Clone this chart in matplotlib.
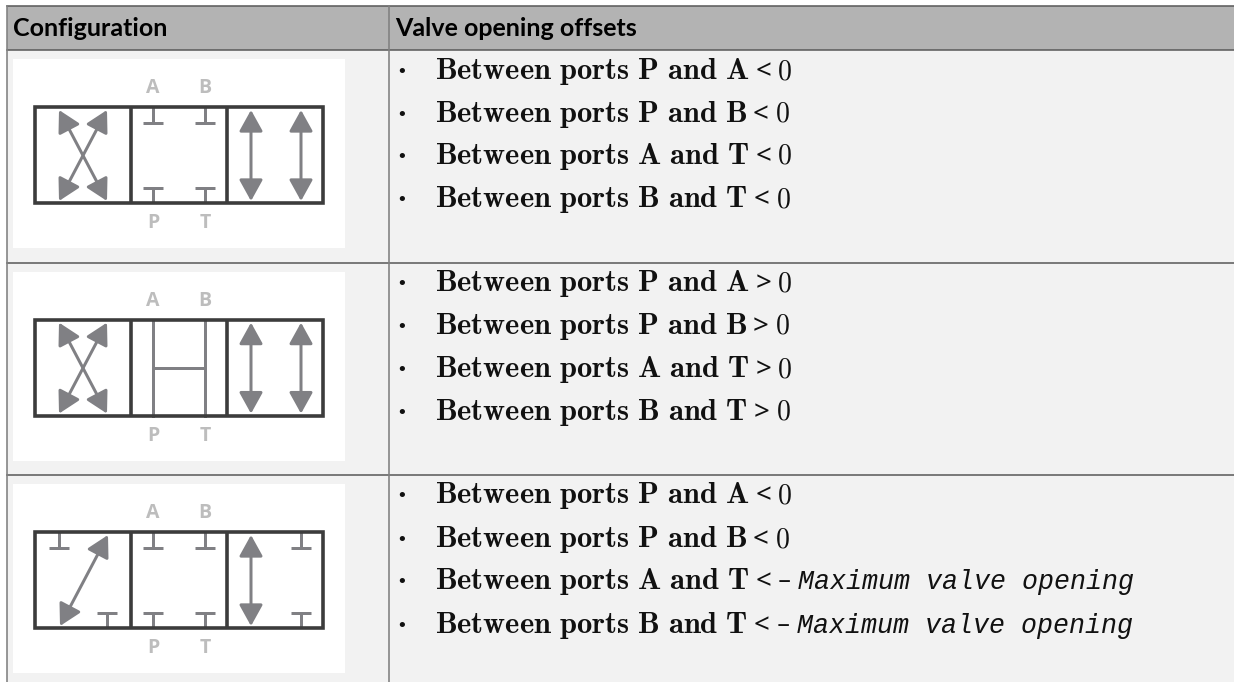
import matplotlib
matplotlib.use('Agg')
import matplotlib.pyplot as plt
from matplotlib.patches import Rectangle, FancyArrowPatch

plt.rcParams['mathtext.fontset'] = 'cm'

# Table text
headers = ['Configuration', 'Valve opening offsets']
port_pairs = ['P and A', 'P and B', 'A and T', 'B and T']
row1_ops = ['<', '<', '<', '<']
row2_ops = ['>', '>', '>', '>']
row3_ops = ['<', '<', '<', '<']
row1_vals = ['0', '0', '0', '0']
row2_vals = ['0', '0', '0', '0']
row3_vals = ['0', '0', '-max', '-max']
max_label = 'Maximum valve opening'
port_labels_top = ['A', 'B']
port_labels_bottom = ['P', 'T']

# Table layout, in pixels
W, H = 1234, 682
col_left, col_mid = 7, 389
header_top, header_bottom = 6, 50
row_lines = [262.5, 474.5]
row_shift = [0, 212.6, 425]
baselines = [[79, 122, 164, 207], [291, 334, 377, 420], [503, 547, 589, 633]]

# Symbol layout, in pixels for the first row
x_port_a, x_port_b = 153, 205
x_left_a, x_left_b = 59, 107
x_right_a, x_right_b = 251, 301
y_top, y_bot = 107, 203

# Colours
dark = '#3c3c3c'
grey = '#808084'
label_grey = '#bdbdbd'
border = '#5e5e5e'

fig = plt.figure(figsize=(W / 100, H / 100), dpi=100)
ax = fig.add_axes([0, 0, 1, 1])
ax.set_xlim(0, W)
ax.set_ylim(H, 0)
ax.axis('off')


def px(n):
    return n * 0.72


def arrow(p, q, dy):
    ax.add_patch(FancyArrowPatch((p[0], p[1] + dy), (q[0], q[1] + dy),
                                 arrowstyle='<|-|>,head_length=1.3,head_width=0.72',
                                 mutation_scale=10, lw=px(3), color=grey,
                                 shrinkA=0, shrinkB=0, zorder=3))


def stop(x, dy, top=True):
    if top:
        ys = (y_top, y_top + 16)
    else:
        ys = (y_bot, y_bot - 15)
    ax.plot([x, x], [ys[0] + dy, ys[1] + dy], color=grey, lw=px(3), solid_capstyle='butt', zorder=3)
    ax.plot([x - 10, x + 10], [ys[1] + dy, ys[1] + dy], color=grey, lw=px(3), solid_capstyle='butt', zorder=3)


def symbol(row):
    dy = row_shift[row]
    ax.add_patch(Rectangle((13, 59 + dy), 332, 189, fc='white', ec='none', zorder=1))
    for x, t in zip([x_port_a, x_port_b], port_labels_top):
        ax.text(x, 88 + dy, t, ha='center', va='center', fontsize=14, family='Open Sans',
                weight='bold', color=label_grey, zorder=2)
    for x, t in zip([x_port_a, x_port_b], port_labels_bottom):
        ax.text(x, 223 + dy, t, ha='center', va='center', fontsize=14, family='Open Sans',
                weight='bold', color=label_grey, zorder=2)
    if row == 0 or row == 1:
        arrow((x_left_a, y_top + 3), (x_left_b, y_bot - 2), dy)
        arrow((x_left_b, y_top + 3), (x_left_a, y_bot - 2), dy)
        arrow((x_right_a, y_top + 3), (x_right_a, y_bot - 2), dy)
        arrow((x_right_b, y_top + 3), (x_right_b, y_bot - 2), dy)
    else:
        stop(x_left_a, dy, True)
        stop(x_left_b, dy, False)
        arrow((x_left_b + 1, y_top + 3), (x_left_a + 1, y_bot - 2), dy)
        arrow((x_right_a, y_top + 3), (x_right_a, y_bot - 2), dy)
        stop(x_right_b, dy, True)
        stop(x_right_b, dy, False)
    if row == 1:
        ax.plot([x_port_a, x_port_a], [y_top + dy, y_bot + dy], color=grey, lw=px(3), zorder=3)
        ax.plot([x_port_b, x_port_b], [y_top + dy, y_bot + dy], color=grey, lw=px(3), zorder=3)
        ax.plot([x_port_a, x_port_b], [155 + dy, 155 + dy], color=grey, lw=px(3), zorder=3)
    else:
        for x in [x_port_a, x_port_b]:
            stop(x, dy, True)
            stop(x, dy, False)
    ax.add_patch(Rectangle((35, y_top + dy), 288, y_bot - y_top, fc='none', ec=dark,
                           lw=px(3.6), joinstyle='miter', zorder=4))
    for x in [131, 227]:
        ax.plot([x, x], [y_top + dy, y_bot + dy], color=dark, lw=px(3.6), solid_capstyle='butt', zorder=4)


def chain(x, y, parts):
    # draw text pieces one after another on the same baseline
    rend = fig.canvas.get_renderer()
    for s, kw, gap in parts:
        t = ax.text(x, y, s, ha='left', va='baseline', color='#111111', zorder=5, **kw)
        bb = t.get_window_extent(rend)
        x = bb.x1 + gap


# Background and header
ax.add_patch(Rectangle((col_left, header_top), W - col_left, H - header_top, fc='#f2f2f2', ec='none', zorder=0))
ax.add_patch(Rectangle((col_left, header_top), W - col_left, header_bottom - header_top, fc='#b3b3b3', ec='none', zorder=0.5))
ax.text(13, 28, headers[0], fontsize=18, family='Lato', weight='bold', color='black', va='center', ha='left', zorder=5)
ax.text(395, 28, headers[1], fontsize=18, family='Lato', weight='bold', color='black', va='center', ha='left', zorder=5)

# Grid lines
for y in [header_top, header_bottom] + row_lines:
    ax.plot([col_left, W], [y, y], color=border, lw=px(1.6), zorder=6)
ax.plot([col_left, col_left], [header_top, H], color='#808080', lw=px(1.6), zorder=6)
ax.plot([col_mid, col_mid], [header_top, H], color='#808080', lw=px(1.6), zorder=6)

# Symbols
for r in range(3):
    symbol(r)

# Text rows
ops = [row1_ops, row2_ops, row3_ops]
vals = [row1_vals, row2_vals, row3_vals]
bold_kw = dict(fontsize=22)
sans_kw = dict(fontsize=20, family='Noto Sans')
dash_kw = dict(fontsize=19, family='Lato')
for r in range(3):
    for i, pair in enumerate(port_pairs):
        y = baselines[r][i]
        ax.text(402, y - 1, '\u2022', fontsize=13, family='DejaVu Serif', ha='center', va='baseline', color='#111111', zorder=5)
        bold = '$\\mathbf{Between\\ ports\\ ' + pair.replace(' ', '\\ ') + '}$'
        parts = [(bold, bold_kw, 6), (ops[r][i], sans_kw, 6)]
        if vals[r][i] == '0':
            parts.append(('$\\mathrm{0}$', dict(fontsize=20), 0))
        else:
            parts.append(('\u2013', dash_kw, 6))
            parts.append((max_label, dict(fontsize=19.2, family='Liberation Mono', style='italic'), 0))
        chain(435, y, parts)

fig.savefig('out.png', dpi=100)
